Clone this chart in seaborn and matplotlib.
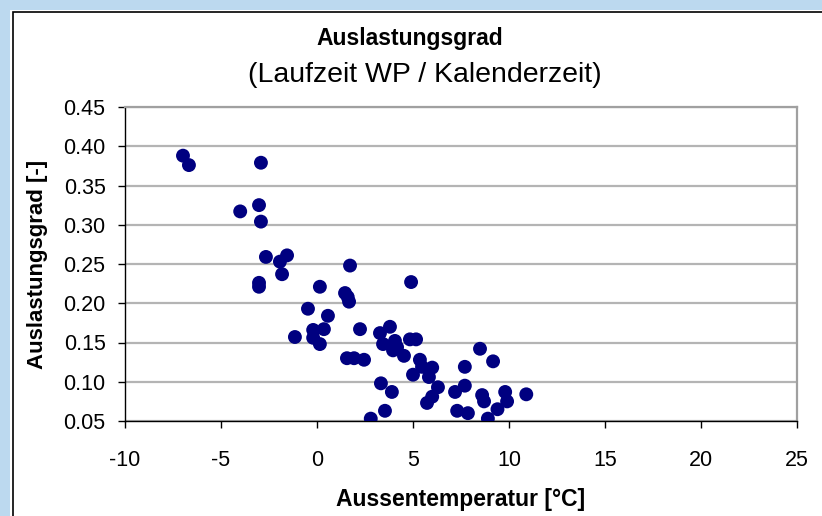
import matplotlib
matplotlib.use('Agg')
import matplotlib.pyplot as plt
from matplotlib.patches import Rectangle
import seaborn as sns
import pandas as pd

# Aussentemperatur [°C] and Auslastungsgrad [-]
temp = [-6.98, -6.67, -2.92, -4.0, -3.02, -2.92, -2.66, -1.93, -1.56, -1.82,
        -3.02, -3.02, -1.15, -0.47, -0.2, -0.2, 0.15, 0.15, 0.36, 0.57,
        1.72, 1.46, 1.6, 1.67, 1.56, 1.93, 2.24, 2.45, 2.8, 3.33,
        3.28, 3.8, 3.44, 3.54, 3.9, 4.06, 4.17, 3.96, 4.53, 4.84,
        5.16, 4.9, 5.0, 5.36, 5.47, 6.0, 5.83, 6.3, 6.0, 5.73,
        7.19, 7.7, 7.7, 7.3, 7.86, 8.49, 8.6, 8.7, 9.17, 8.9,
        9.4, 9.8, 9.9, 10.9]
util = [0.388, 0.376, 0.379, 0.317, 0.325, 0.304, 0.259, 0.253, 0.261, 0.237,
        0.226, 0.221, 0.157, 0.193, 0.166, 0.156, 0.148, 0.221, 0.167, 0.184,
        0.248, 0.213, 0.208, 0.202, 0.130, 0.130, 0.167, 0.128, 0.053, 0.098,
        0.162, 0.170, 0.148, 0.063, 0.087, 0.152, 0.144, 0.140, 0.133, 0.154,
        0.154, 0.227, 0.109, 0.128, 0.119, 0.118, 0.106, 0.093, 0.081, 0.073,
        0.087, 0.119, 0.095, 0.063, 0.060, 0.142, 0.083, 0.075, 0.126, 0.053,
        0.065, 0.087, 0.075, 0.084]

x_ticks = [-10, -5, 0, 5, 10, 15, 20, 25]
y_ticks = [0.05, 0.10, 0.15, 0.20, 0.25, 0.30, 0.35, 0.40, 0.45]

df = pd.DataFrame({'temp': temp, 'util': util})

sns.set_style('white')
plt.rcParams['font.family'] = ['Liberation Sans', 'DejaVu Sans']
plt.rcParams['text.color'] = 'black'
plt.rcParams['axes.labelcolor'] = 'black'

W, H = 822, 516
fig = plt.figure(figsize=(W / 100, H / 100), dpi=100)
fig.patch.set_facecolor('#bcd9ef')
# white chart area with black frame (right/bottom edges run off the image)
fig.patches.append(Rectangle((10 / W, -0.1), 1.2, 1 - 10 / H + 0.1,
                             transform=fig.transFigure, facecolor='white',
                             edgecolor='none', zorder=-3))
fig.patches.append(Rectangle((13 / W, -0.1), 1.2, 1 - 12 / H + 0.1,
                             transform=fig.transFigure, facecolor='none',
                             edgecolor='black', linewidth=1.2, zorder=-2))

ax = fig.add_axes([125 / W, 1 - 421 / H, (797 - 125) / W, (421 - 107) / H])
ax.set_facecolor('white')

sns.scatterplot(data=df, x='temp', y='util', ax=ax, color='#000080',
                s=100, edgecolor='none', zorder=3)

ax.set_xlim(-10, 25)
ax.set_ylim(0.05, 0.45)
ax.set_xticks(x_ticks)
ax.set_yticks(y_ticks)
ax.set_xticklabels([str(t) for t in x_ticks])
ax.set_yticklabels([f'{t:.2f}' for t in y_ticks])
ax.tick_params(axis='both', which='both', direction='out', length=5, width=1,
               color='black', labelsize=15.5, labelcolor='black',
               left=True, bottom=True, top=False, right=False)
ax.tick_params(axis='x', pad=16)
ax.tick_params(axis='y', pad=9)

ax.yaxis.grid(True, color='#b4b4b4', linewidth=1.6)
ax.xaxis.grid(False)
ax.set_axisbelow(True)

for side in ['left', 'bottom']:
    ax.spines[side].set_color('black')
    ax.spines[side].set_linewidth(1.0)
for side in ['top', 'right']:
    ax.spines[side].set_color('#a0a0a0')
    ax.spines[side].set_linewidth(1.6)

ax.set_xlabel('Aussentemperatur [°C]', fontsize=16.5, fontweight='bold', labelpad=12)
ax.set_ylabel('Auslastungsgrad [-]', fontsize=16, fontweight='bold', labelpad=11)

fig.text(410 / W, 1 - 38 / H, 'Auslastungsgrad', ha='center', va='center',
         fontsize=16.5, fontweight='bold')
fig.text(425 / W, 1 - 75 / H, '(Laufzeit WP / Kalenderzeit)', ha='center', va='center',
         fontsize=20.5)

fig.savefig('out.png', dpi=100, facecolor=fig.get_facecolor())
